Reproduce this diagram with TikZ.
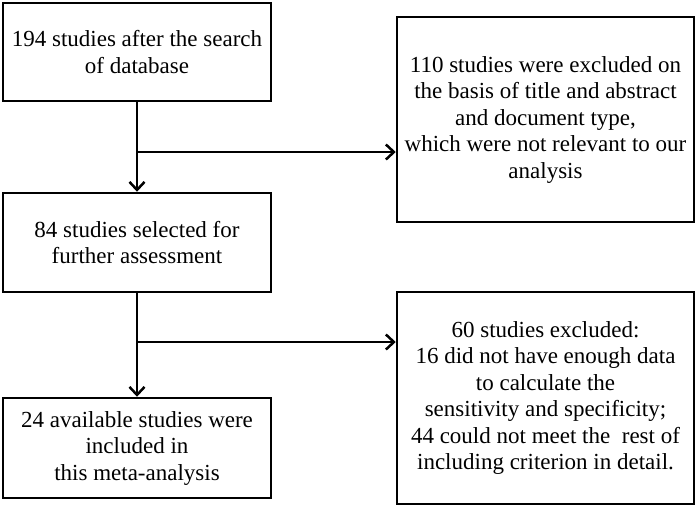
\documentclass[tikz,border=0pt]{standalone}
\usepackage{fontspec}
\setmainfont{Liberation Serif}
\newfontfamily\tms{Liberation Serif}
\usetikzlibrary{arrows.meta}
\begin{document}
\begin{tikzpicture}[x=1pt,y=-1pt,
  box/.style={draw,line width=2.5pt,align=center,inner sep=0pt,
    font=\tms\fontsize{23}{26.5}\selectfont},
  flow/.style={line width=2.5pt,-{Straight Barb[length=8pt,width=15pt,line width=2.5pt]}}]
\useasboundingbox (0,0) rectangle (697,507);
\node[box,minimum width=268pt,minimum height=98pt] (a) at (137,52) {194 studies after the search\\of database};
\node[box,minimum width=268pt,minimum height=99pt] (b) at (137,242.5) {84 studies selected for\\further assessment};
\node[box,minimum width=268pt,minimum height=100pt] (c) at (137,448) {24 available studies were\\included in\\this meta-analysis};
\node[box,minimum width=297pt,minimum height=205pt] (r1) at (545.5,119.5) {110 studies were excluded on\\the basis of title and abstract\\and document type,\\which were not relevant to our\\analysis};
\node[box,minimum width=297pt,minimum height=212pt] (r2) at (545.5,398) {60 studies excluded:\\16 did not have enough data\\to calculate the\\sensitivity and specificity;\\44 could not meet the\ \ rest of\\including criterion in detail.};
\coordinate (j1) at (137,152);
\coordinate (j2) at (137,342);
\draw[flow] (a.south) -- (b.north);
\draw[flow] (j1) -- (r1.west |- j1);
\draw[flow] (b.south) -- (c.north);
\draw[flow] (j2) -- (r2.west |- j2);
\end{tikzpicture}
\end{document}
